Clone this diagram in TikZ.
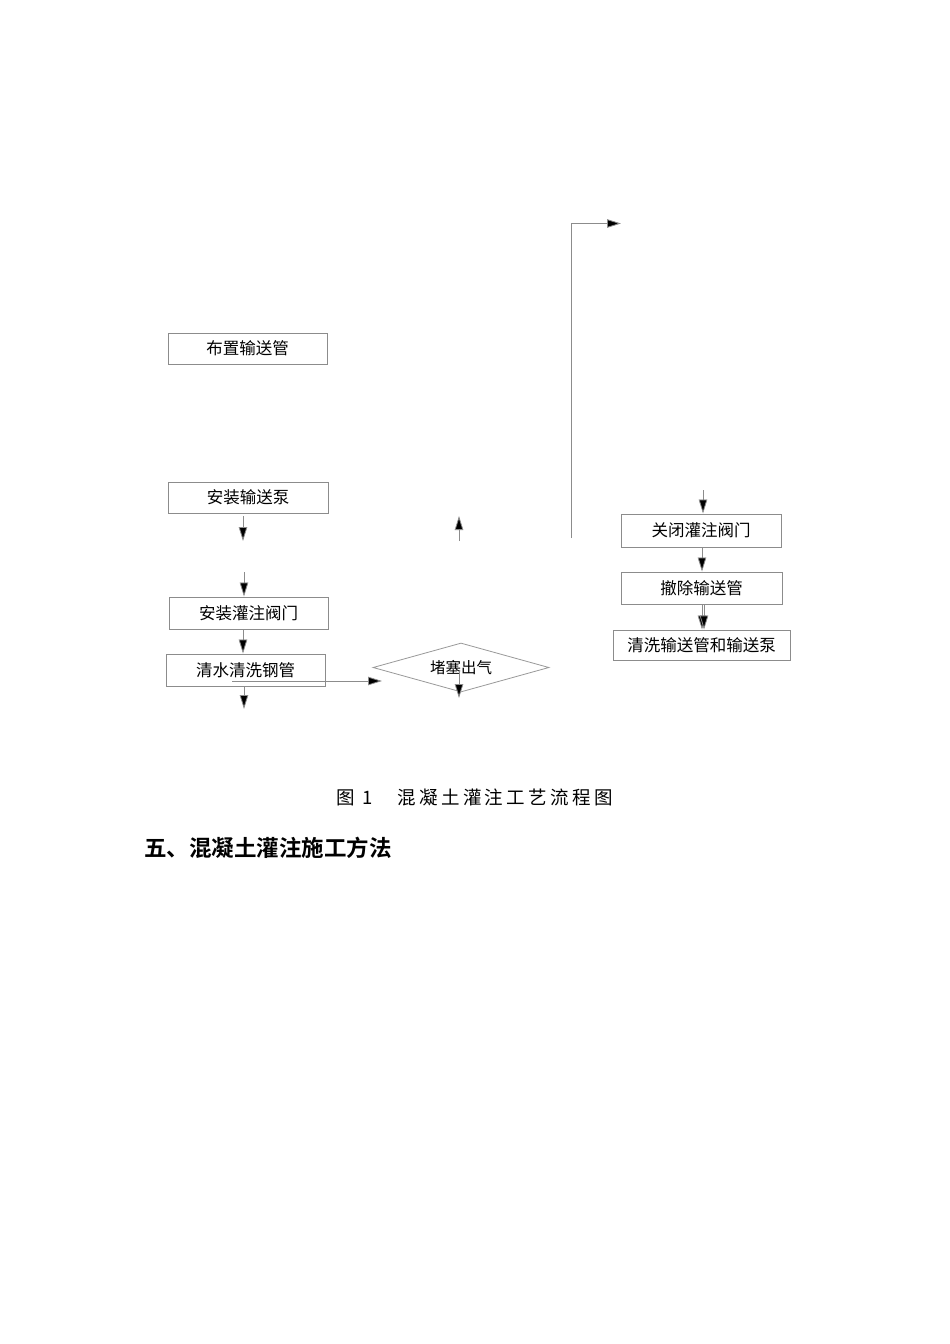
\documentclass[tikz,border=0pt]{standalone}
\usepackage{fontspec}
\setmainfont{Noto Sans CJK SC}
\newfontfamily\cjkbold{Noto Sans CJK SC Bold}
\usetikzlibrary{arrows.meta,shapes.geometric}
\begin{document}
\begin{tikzpicture}[x=1pt,y=-1pt,
  stepbox/.style={draw=black!45,line width=0.9pt,inner sep=0pt,font=\fontsize{16.5}{17}\selectfont},
  arr/.style={draw=black!45,line width=0.8pt,-{Triangle[length=14pt,width=8.5pt,fill=black]}},
  ln/.style={draw=black!45,line width=0.9pt}]
\useasboundingbox[fill=white] (0,0) rectangle (950,1344);
% left column boxes
\node[stepbox,minimum width=159pt,minimum height=31pt] (b1) at (247.5,348.5) {布置输送管};
\node[stepbox,minimum width=160pt,minimum height=31pt] (b2) at (248,497.5) {安装输送泵};
\node[stepbox,minimum width=159pt,minimum height=32pt] (b3) at (248.5,613) {安装灌注阀门};
\node[stepbox,minimum width=159pt,minimum height=32pt] (b4) at (245.5,670) {清水清洗钢管};
% right column boxes
\node[stepbox,minimum width=160pt,minimum height=33pt] (b5) at (701,530.5) {关闭灌注阀门};
\node[stepbox,minimum width=161pt,minimum height=32pt] (b6) at (701.5,588) {撤除输送管};
\node[stepbox,minimum width=177pt,minimum height=30pt] (b7) at (701.5,645) {清洗输送管和输送泵};
% diamond
\node[diamond,draw=black!40,line width=0.8pt,inner sep=0pt,minimum width=176pt,minimum height=49pt,aspect=3.6,font=\fontsize{15.5}{16}\selectfont] (d) at (461,667.5) {堵塞出气};
% free-end coordinates
\coordinate (a1s) at (243,516);
\coordinate (a1e) at (243,541);
\coordinate (a2s) at (244,572);
\coordinate (a3e) at (244,709);
\coordinate (h1s) at (232,681);
\coordinate (h1e) at (382,681);
\coordinate (dd1) at (459,671);
\coordinate (dd2) at (459,698);
\coordinate (up1) at (459,541);
\coordinate (up2) at (459,516);
\coordinate (vb) at (571,538);
\coordinate (vt) at (571,223.5);
\coordinate (ht) at (621,223.5);
\coordinate (r1s) at (703,490);
% connectors
\draw[arr] (a1s) -- (a1e);
\draw[arr] (a2s) -- (a2s |- b3.north);
\draw[arr] (b3.south -| 243,0) -- (b4.north -| 243,0);
\draw[arr] (b4.south -| a3e) -- (a3e);
\draw[arr] (h1s) -- (h1e);
\draw[arr] (dd1) -- (dd2);
\draw[arr] (up1) -- (up2);
\draw[ln] (vb) -- (vt);
\draw[arr] (vt) -- (ht);
\draw[arr] (r1s) -- (r1s |- b5.north);
\draw[arr] (b5.south -| 702,0) -- (b6.north -| 702,0);
\draw[arr] (b6.south -| 702,0) -- (b7.north -| 702,0);
\draw[arr] (b6.south -| 704,0) -- (b7.north -| 704,0);
% caption and heading
\node[font=\fontsize{18.5}{20}\selectfont\addfontfeature{LetterSpace=18},anchor=west,inner sep=0pt] (cap) at (336,797) {图 1　混凝土灌注工艺流程图};
\node[font=\cjkbold\fontsize{22.5}{24}\selectfont,anchor=west,inner sep=0pt] (hd) at (144,848) {五、混凝土灌注施工方法};
\end{tikzpicture}
\end{document}
